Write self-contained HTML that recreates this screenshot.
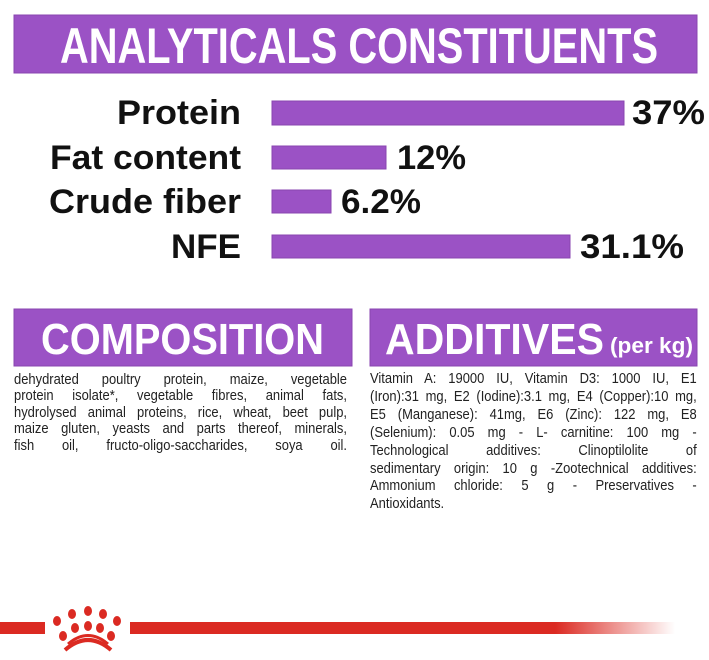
<!DOCTYPE html>
<html><head><meta charset="utf-8"><style>
body{margin:0;width:709px;height:660px;background:#fff;position:relative;overflow:hidden;font-family:"Liberation Sans",sans-serif}
svg{position:absolute;left:0;top:0}
.t{position:absolute;font-size:14.4px;color:#222;text-align:justify;transform-origin:0 0;transform:scaleX(0.9)}
.t div{text-align-last:justify;white-space:nowrap;overflow:visible}
.t div.l{text-align-last:left}
</style></head><body>
<svg width="709" height="660" viewBox="0 0 709 660">
<defs><linearGradient id="g" x1="0" x2="1"><stop offset="0.78" stop-color="#db2a22"/><stop offset="1" stop-color="#db2a22" stop-opacity="0"/></linearGradient></defs>
<rect x="14" y="15" width="683" height="58" fill="#9b52c5" stroke="#8a45b0"/>
<text x="60" y="63" textLength="598" lengthAdjust="spacingAndGlyphs" font-family="Liberation Sans" font-weight="bold" font-size="50" fill="#fff">ANALYTICALS CONSTITUENTS</text>
<g font-family="Liberation Sans" font-weight="bold" font-size="34" fill="#111">
<text x="241" y="124" text-anchor="end" textLength="124" lengthAdjust="spacingAndGlyphs">Protein</text>
<text x="241" y="169" text-anchor="end" textLength="191" lengthAdjust="spacingAndGlyphs">Fat content</text>
<text x="241" y="213" text-anchor="end" textLength="192" lengthAdjust="spacingAndGlyphs">Crude fiber</text>
<text x="241" y="258" text-anchor="end" textLength="70" lengthAdjust="spacingAndGlyphs">NFE</text>
<text x="632" y="124" textLength="73" lengthAdjust="spacingAndGlyphs">37%</text>
<text x="397" y="169" textLength="69" lengthAdjust="spacingAndGlyphs">12%</text>
<text x="341" y="213" textLength="80" lengthAdjust="spacingAndGlyphs">6.2%</text>
<text x="580" y="258" textLength="104" lengthAdjust="spacingAndGlyphs">31.1%</text>
</g>
<g fill="#9b52c5" stroke="#8a45b0">
<rect x="272" y="101" width="352" height="24"/>
<rect x="272" y="146" width="114" height="23"/>
<rect x="272" y="190" width="59" height="23"/>
<rect x="272" y="235" width="298" height="23"/>
<rect x="14" y="309" width="338" height="57"/>
<rect x="370" y="309" width="327" height="57"/>
</g>
<g font-family="Liberation Sans" font-weight="bold" fill="#fff">
<text x="41" y="354" font-size="44" textLength="283" lengthAdjust="spacingAndGlyphs">COMPOSITION</text>
<text x="385" y="354" font-size="44" textLength="219" lengthAdjust="spacingAndGlyphs">ADDITIVES</text>
<text x="610" y="353" font-size="22" textLength="83" lengthAdjust="spacingAndGlyphs">(per kg)</text>
</g>
<rect x="0" y="622" width="45" height="12" fill="#db2a22"/>
<rect x="130" y="622" width="545" height="12" fill="url(#g)"/>
<g fill="#db2a22">
<ellipse cx="57" cy="621" rx="4" ry="5"/><ellipse cx="72" cy="614" rx="4" ry="5"/><ellipse cx="88" cy="611" rx="4" ry="5"/><ellipse cx="103" cy="614" rx="4" ry="5"/><ellipse cx="117" cy="621" rx="4" ry="5"/>
<ellipse cx="75" cy="628" rx="4" ry="5"/><ellipse cx="88" cy="626" rx="4" ry="5"/><ellipse cx="100" cy="628" rx="4" ry="5"/>
<ellipse cx="63" cy="636" rx="4" ry="5"/><ellipse cx="111" cy="636" rx="4" ry="5"/>
</g>
<path d="M65 650 Q88 630 111 650" stroke="#db2a22" stroke-width="4" fill="none"/>
<path d="M68 644 Q88 627 108 644" stroke="#db2a22" stroke-width="3" fill="none"/>
</svg>
<div class="t" style="left:14px;top:372px;width:370px;line-height:16.4px">
<div>dehydrated poultry protein, maize, vegetable</div>
<div>protein isolate*, vegetable fibres, animal fats,</div>
<div>hydrolysed animal proteins, rice, wheat, beet pulp,</div>
<div>maize gluten, yeasts and parts thereof, minerals,</div>
<div>fish oil, fructo-oligo-saccharides, soya oil.</div>
</div>
<div class="t" style="left:370px;top:371px;width:363px;line-height:17.9px">
<div>Vitamin A: 19000 IU, Vitamin D3: 1000 IU, E1</div>
<div>(Iron):31 mg, E2 (Iodine):3.1 mg, E4 (Copper):10 mg,</div>
<div>E5 (Manganese): 41mg, E6 (Zinc): 122 mg, E8</div>
<div>(Selenium): 0.05 mg - L- carnitine: 100 mg -</div>
<div>Technological additives: Clinoptilolite of</div>
<div>sedimentary origin: 10 g -Zootechnical additives:</div>
<div>Ammonium chloride: 5 g - Preservatives -</div>
<div class="l">Antioxidants.</div>
</div>
</body></html>
